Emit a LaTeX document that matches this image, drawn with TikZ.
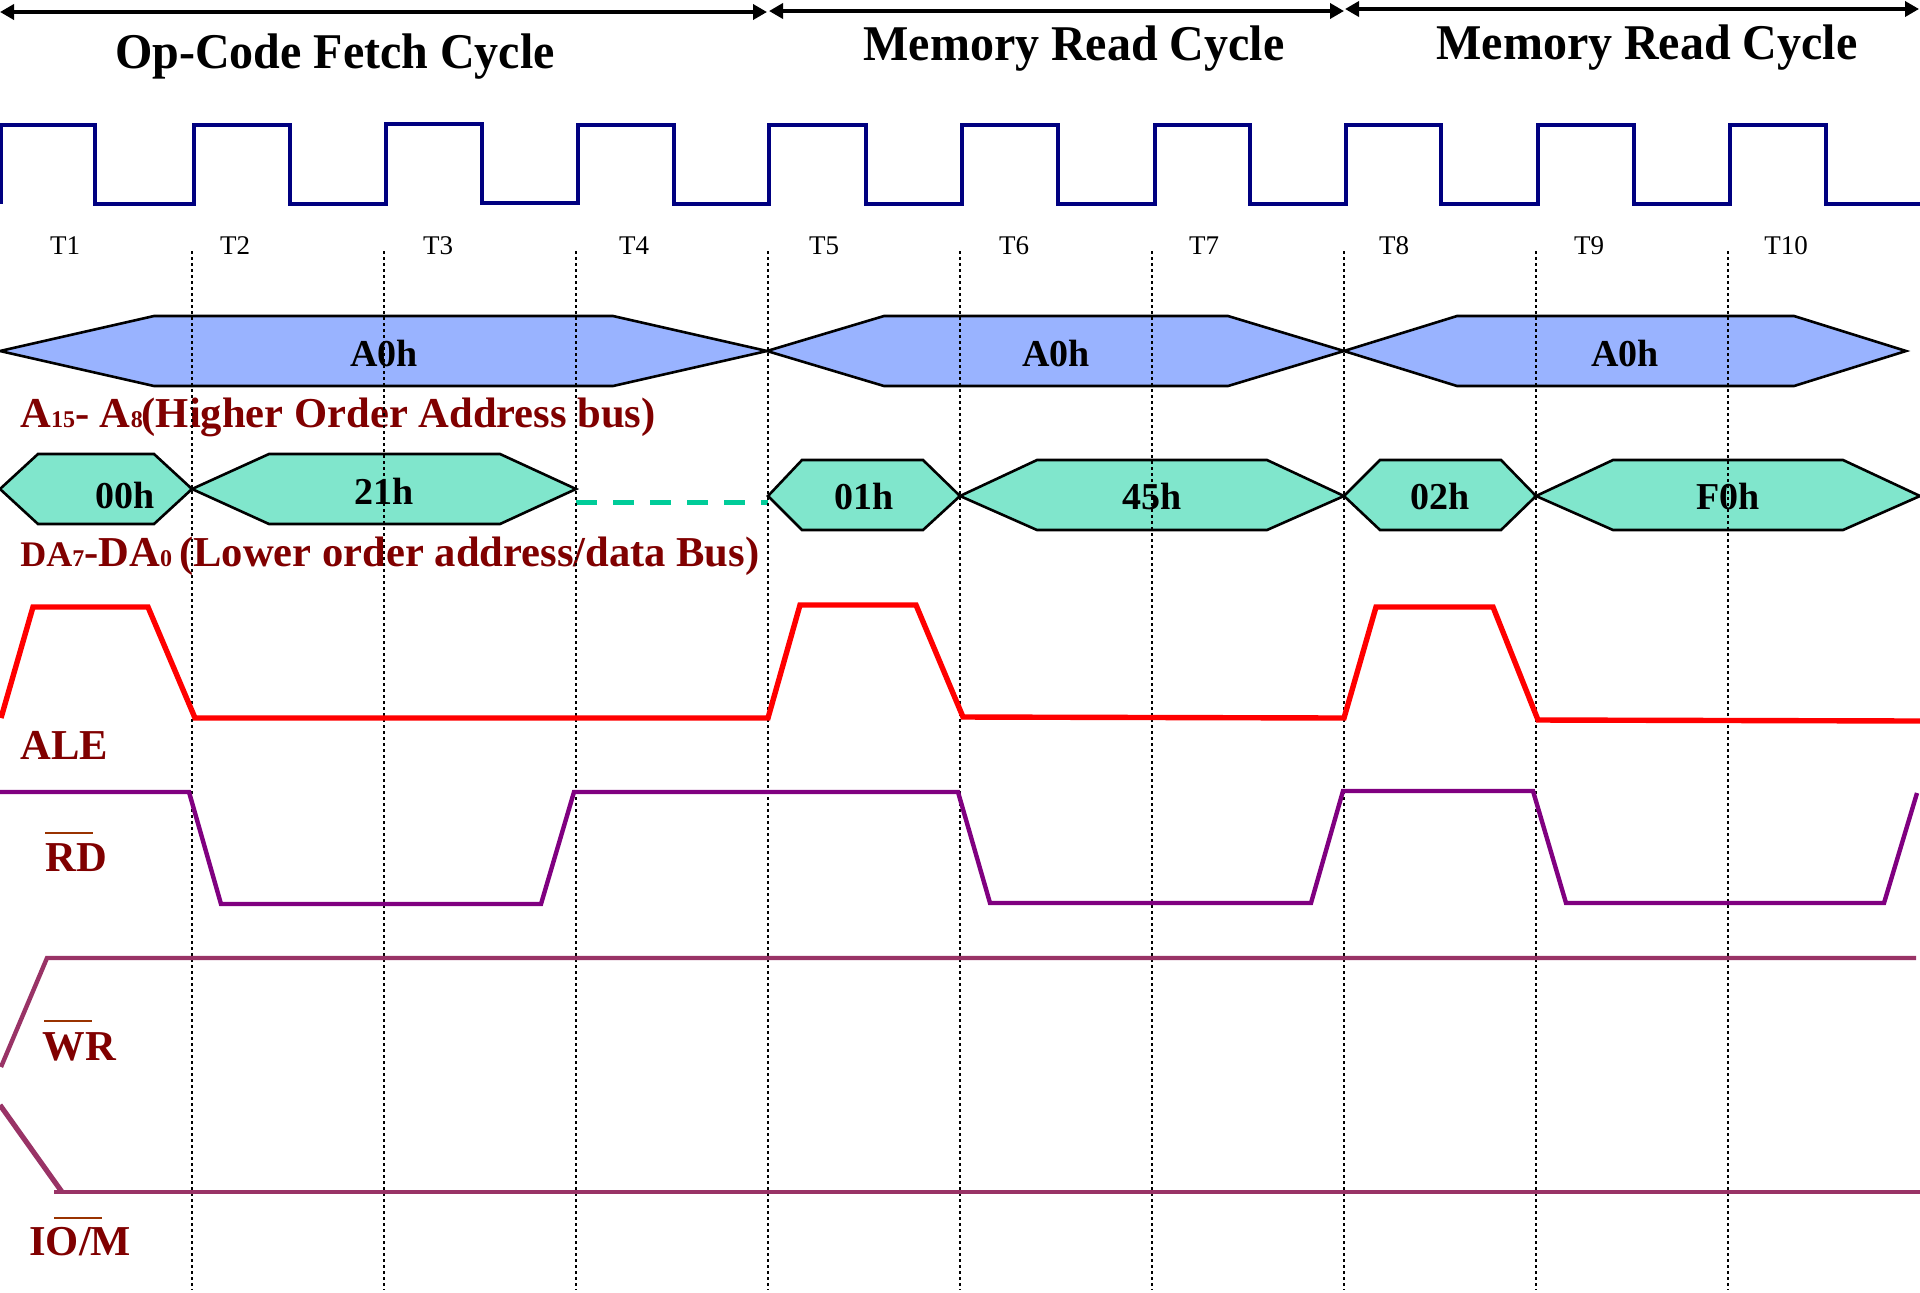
\documentclass[tikz,border=0pt]{standalone}
\usepackage{fontspec}
\setmainfont{Liberation Serif}
\newfontfamily\headfont[FakeStretch=0.96]{Liberation Serif}
\usetikzlibrary{%
  arrows.meta,
  positioning
}
\definecolor{clockblue}{HTML}{000080}
\definecolor{addrblue}{HTML}{99B3FF}
\definecolor{datagreen}{HTML}{80E6CC}
\definecolor{dashgreen}{HTML}{00CC99}
\definecolor{labelred}{HTML}{800000}
\definecolor{rdpurple}{HTML}{800080}
\definecolor{wrplum}{HTML}{993366}
\definecolor{barbrown}{HTML}{993300}
\tikzstyle{cycle} = [line width=2pt, <->]
\tikzstyle{cyclelabel} = [font=\fontsize{25}{28}\headfont\bfseries, inner sep=0pt]
\tikzstyle{clock} = [draw=clockblue, line width=2.4pt]
\tikzstyle{tlabel} = [font=\fontsize{13.5}{15}\selectfont, inner sep=0pt]
\tikzstyle{addrbus} = [draw=black, fill=addrblue, line width=1.3pt]
\tikzstyle{databus} = [draw=black, fill=datagreen, line width=1.3pt]
\tikzstyle{busvalue} = [font=\fontsize{19}{21}\selectfont\bfseries, inner sep=0pt]
\tikzstyle{tick} = [draw=black, line width=0.9pt, dash pattern=on 1.5pt off 1.5pt]
\tikzstyle{signame} = [font=\fontsize{21.3}{24}\selectfont\bfseries, text=labelred, inner sep=0pt, anchor=west]
\tikzstyle{overbar} = [draw=barbrown, line width=1.2pt]
\tikzstyle{ale} = [draw=red, line width=2.7pt]
\tikzstyle{rd} = [draw=rdpurple, line width=2.2pt]
\tikzstyle{wrio} = [draw=wrplum, line width=2.2pt]
\begin{document}
\begin{tikzpicture}[x=0.5pt, y=-0.5pt, >={Triangle[length=7pt,width=7.5pt]}]
        \useasboundingbox (0,0) rectangle (1920,1292);
        % machine cycles
        \coordinate (c0) at (0,12);
        \coordinate (c1) at (767,12);
        \coordinate (c2) at (769,11);
        \coordinate (c3) at (1344,11);
        \coordinate (c4) at (1345,9);
        \coordinate (c5) at (1919,9);
        \draw[cycle] (c0) -- (c1);
        \draw[cycle] (c2) -- (c3);
        \draw[cycle] (c4) -- (c5);
        \node[cyclelabel] (opfetch) at (335,57) {Op-Code Fetch Cycle};
        \node[cyclelabel] (memread1) at (1074,49) {Memory Read Cycle};
        \node[cyclelabel] (memread2) at (1647,48) {Memory Read Cycle};
        % clock
        \draw[clock] (1,204) -- (1,125) -- (95,125) -- (95,204) -- (194,204) -- (194,125) -- (290,125) -- (290,204)
          -- (386,204) -- (386,124) -- (482,124) -- (482,203) -- (578,203) -- (578,125) -- (674,125) -- (674,204)
          -- (769,204) -- (769,125) -- (866,125) -- (866,204) -- (962,204) -- (962,125) -- (1058,125) -- (1058,204)
          -- (1155,204) -- (1155,125) -- (1250,125) -- (1250,204) -- (1346,204) -- (1346,125) -- (1441,125) -- (1441,204)
          -- (1538,204) -- (1538,125) -- (1634,125) -- (1634,204) -- (1730,204) -- (1730,125) -- (1826,125) -- (1826,204) -- (1920,204);
        \node[tlabel] (t1) at (65,246) {T1};
        \node[tlabel] (t2) at (235,246) {T2};
        \node[tlabel] (t3) at (438,246) {T3};
        \node[tlabel] (t4) at (634,246) {T4};
        \node[tlabel] (t5) at (824,246) {T5};
        \node[tlabel] (t6) at (1014,246) {T6};
        \node[tlabel] (t7) at (1204,246) {T7};
        \node[tlabel] (t8) at (1394,246) {T8};
        \node[tlabel] (t9) at (1589,246) {T9};
        \node[tlabel] (t10) at (1786,246) {T10};
        % address bus
        \draw[addrbus] (0,351) -- (154,316) -- (613,316) -- (767,351) -- (613,386) -- (154,386) -- cycle;
        \draw[addrbus] (767,351) -- (884,316) -- (1228,316) -- (1344,351) -- (1228,386) -- (884,386) -- cycle;
        \draw[addrbus] (1344,351) -- (1457,316) -- (1794,316) -- (1906,351) -- (1794,386) -- (1457,386) -- cycle;
        \node[busvalue] (addr1) at (384,353) {A0h};
        \node[busvalue] (addr2) at (1056,353) {A0h};
        \node[busvalue] (addr3) at (1625,353) {A0h};
        % data bus
        \draw[databus] (0,489) -- (38,454) -- (154,454) -- (192,489) -- (154,524) -- (38,524) -- cycle;
        \draw[databus] (192,489) -- (269,454) -- (500,454) -- (576,489) -- (500,524) -- (269,524) -- cycle;
        \draw[dashgreen, line width=2.5pt, dash pattern=on 10.5pt off 8pt] (576,502) -- (768,502);
        \draw[databus] (768,496) -- (802,460) -- (923,460) -- (960,496) -- (923,530) -- (802,530) -- cycle;
        \draw[databus] (960,496) -- (1037,460) -- (1267,460) -- (1344,496) -- (1267,530) -- (1037,530) -- cycle;
        \draw[databus] (1344,496) -- (1380,460) -- (1501,460) -- (1536,496) -- (1501,530) -- (1380,530) -- cycle;
        \draw[databus] (1536,496) -- (1613,460) -- (1843,460) -- (1920,496) -- (1843,530) -- (1613,530) -- cycle;
        \node[busvalue] (data1) at (125,495) {00h};
        \node[busvalue] (data2) at (384,491) {21h};
        \node[busvalue] (data3) at (864,496) {01h};
        \node[busvalue] (data4) at (1152,496) {45h};
        \node[busvalue] (data5) at (1440,496) {02h};
        \node[busvalue] (data6) at (1728,496) {F0h};
        % signal names
        \node[signame] (addrname) at (20,417) {A{\fontsize{12}{12}\selectfont 15}- A{\fontsize{12}{12}\selectfont 8}\kern-0.5pt(Higher Order Address bus)};
        \node[signame] (dataname) at (20,556) {{\fontsize{18}{18}\selectfont DA}{\fontsize{12}{12}\selectfont 7}-DA{\fontsize{12}{12}\selectfont 0}\,(Lower order address/data Bus)};
        \node[signame] (alename) at (20,745) {ALE};
        \node[signame] (rdname) at (45,858) {RD};
        \node[signame] (wrname) at (42,1047) {WR};
        \node[signame] (ioname) at (29,1242) {IO/M};
        \draw[overbar] (45,833) -- (93,833);
        \draw[overbar] (44,1021) -- (92,1021);
        \draw[overbar] (54,1218) -- (102,1218);
        % T state boundaries
        \draw[tick] (192,251) -- (192,1290);
        \draw[tick] (384,251) -- (384,1290);
        \draw[tick] (576,251) -- (576,1290);
        \draw[tick] (768,251) -- (768,1290);
        \draw[tick] (960,251) -- (960,1290);
        \draw[tick] (1152,251) -- (1152,1290);
        \draw[tick] (1344,251) -- (1344,1290);
        \draw[tick] (1536,251) -- (1536,1290);
        \draw[tick] (1728,251) -- (1728,1290);
        % control lines
        \draw[ale] (1,718) -- (33,607) -- (148,607) -- (195,718) -- (768,718) -- (800,605) -- (916,605) -- (963,717)
          -- (1344,718) -- (1376,607) -- (1493,607) -- (1538,720) -- (1920,721);
        \draw[rd] (0,792) -- (189,792) -- (221,904) -- (541,904) -- (574,792) -- (958,792) -- (990,903) -- (1311,903)
          -- (1343,791) -- (1533,791) -- (1566,903) -- (1884,903) -- (1917,793);
        \draw[wrio] (1,1067) -- (47,958) -- (1916,958);
        \draw[wrio, line width=2.6pt] (0,1105) -- (62,1192);
        \draw[wrio] (54,1192) -- (1920,1192);
\end{tikzpicture}
\end{document}
